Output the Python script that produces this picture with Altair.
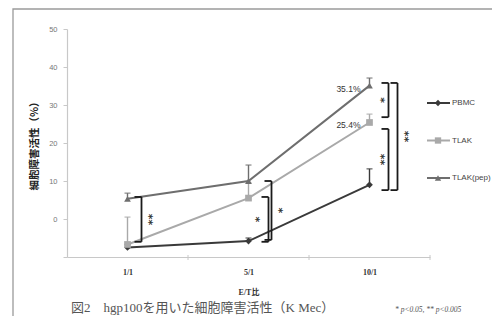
import json
import altair as alt
import pandas as pd

# ---- data ----
categories = ["1/1", "5/1", "10/1"]
series = ["PBMC", "TLAK", "TLAK(pep)"]
pbmc = [-7.5, -5.8, 9.0]
tlak = [-6.7, 5.5, 25.4]
tlak_pep = [5.3, 10.0, 35.1]
pbmc_err = [0.8, 0.8, 4.2]
tlak_err = [7.2, 4.0, 2.2]
tlak_pep_err = [1.5, 4.2, 2.0]

# significance brackets (category index, upper end, lower end, label)
bracket_cat = [0, 1, 1, 2, 2, 2]
bracket_hi = [5.8, 5.8, 10.0, 35.8, 23.7, 35.8]
bracket_lo = [-6.0, -6.0, -5.5, 26.8, 7.6, 7.6]
bracket_label = ["**", "*", "*", "*", "**", "**"]

y_ticks = [-10, 0, 10, 20, 30, 40, 50]
caption = "図2　hgp100を用いた細胞障害活性（K Mec）"
footnote = "* p<0.05, ** p<0.005"
y_title = "細胞障害活性（%）"
x_title = "E/T比"

# ---- layout / style (not data) ----
W, H = 363, 228
STEP = W / 3.0
colors = ["#3a3a3a", "#a9a9a9", "#6e6e6e"]
shapes = ["diamond", "square", "triangle-up"]
bracket_dx_px = [14, 20, 23, 19, 19, 28]
label_dx_px = [23, 9, 32, 13, 13, 37]
ARM = 7

rows = []
for s, vals, errs in [(series[0], pbmc, pbmc_err), (series[1], tlak, tlak_err), (series[2], tlak_pep, tlak_pep_err)]:
    for i, c in enumerate(categories):
        rows.append({"idx": i, "cat": c, "series": s, "value": vals[i], "top": vals[i] + errs[i]})
df = pd.DataFrame(rows)

bdf = pd.DataFrame({"cat": bracket_cat, "hi": bracket_hi, "lo": bracket_lo, "label": bracket_label})
bdf["bx"] = bdf["cat"] + pd.Series(bracket_dx_px) / STEP
bdf["bx0"] = bdf["bx"] - ARM / STEP
bdf["lx"] = bdf["cat"] + pd.Series(label_dx_px) / STEP
bdf["mid"] = (bdf["hi"] + bdf["lo"]) / 2

xscale = alt.Scale(domain=[-0.5, 2.5], nice=False, zero=False)
xaxis = alt.Axis(values=[0, 1, 2], labelExpr=json.dumps(categories) + "[datum.value]",
                 ticks=False, grid=False, domainColor="#c8c8c8", domainWidth=1.2,
                 labelFontSize=8, labelFont="Liberation Serif", labelColor="#333",
                 labelFontWeight="bold", labelPadding=11,
                 title=x_title, titleFontSize=8, titleFontWeight="bold",
                 titleFont="Liberation Serif, Noto Sans CJK JP", titleY=35,
                 titleBaseline="middle", titleColor="#333")
yscale = alt.Scale(domain=[-10, 50], nice=False, zero=False)
yaxis = alt.Axis(values=y_ticks, labelExpr="datum.value == -10 ? '' : datum.label",
                 tickSize=4, tickColor="#c8c8c8", domainColor="#c8c8c8", domainWidth=1.2,
                 grid=False, labelFontSize=7.5, labelColor="#777", labelPadding=6,
                 labelFont="Liberation Sans",
                 title=y_title, titleFont="Noto Sans CJK JP", titleFontSize=10.5,
                 titleFontWeight="bold", titleAngle=-90, titleX=-33, titleY=114,
                 titleAlign="center", titleBaseline="middle", titleColor="#222")


def X(f):
    return alt.X(f, type="quantitative", scale=xscale, axis=xaxis)


def Y(f):
    return alt.Y(f, type="quantitative", scale=yscale, axis=yaxis)


color = alt.Color("series:N", scale=alt.Scale(domain=series, range=colors), legend=None)
shape = alt.Shape("series:N", scale=alt.Scale(domain=series, range=shapes), legend=None)

base = alt.Chart(df)

frame = alt.Chart(pd.DataFrame({"a": [0]})).mark_rect(fillOpacity=0, stroke="#9a9a9a", strokeWidth=1.3).encode(
    x=alt.value(-54), y=alt.value(-20), x2=alt.value(440), y2=alt.value(300))

bticks = alt.Chart(pd.DataFrame({"b": [0.5, 1.5, 2.5]})).mark_rule(color="#c8c8c8", strokeWidth=1).encode(
    x=X("b"), y=alt.value(H - 2), y2=alt.value(H + 3))

lines = base.mark_line(strokeWidth=2).encode(x=X("idx"), y=Y("value"), color=color, detail="series:N")
err = base.mark_rule(strokeWidth=1.4).encode(x=X("idx"), y=Y("value"), y2="top:Q", color=color)
caps = base.mark_tick(orient="horizontal", size=6, thickness=1.4).encode(x=X("idx"), y=Y("top"), color=color)
pts = base.mark_point(filled=True, size=45, opacity=1).encode(x=X("idx"), y=Y("value"), color=color, shape=shape)

pct = base.transform_filter(
    f"datum.idx == 2 && datum.series != '{series[0]}'"
).transform_calculate(
    lab="format(datum.value, '.1f') + '%'"
).mark_text(align="right", baseline="middle", dx=-9, dy=3, fontSize=8.5, font="Liberation Sans", color="#333").encode(
    x=X("idx"), y=Y("value"), text="lab:N")

bch = alt.Chart(bdf)
bv = bch.mark_rule(color="#1a1a1a", strokeWidth=1.8).encode(x=X("bx"), y=Y("hi"), y2="lo:Q")
bt = bch.mark_rule(color="#1a1a1a", strokeWidth=1.8).encode(x=X("bx0"), x2="bx:Q", y=Y("hi"))
bb = bch.mark_rule(color="#1a1a1a", strokeWidth=1.8).encode(x=X("bx0"), x2="bx:Q", y=Y("lo"))
bl = bch.mark_text(angle=90, align="center", baseline="middle", dy=3, fontSize=11, fontWeight="bold",
                   font="DejaVu Sans", color="#333").encode(x=X("lx"), y=Y("mid"), text="label:N")

legend_layers = []
for i, s in enumerate(series):
    ly = 74 + 37.5 * i
    d = alt.Chart(pd.DataFrame({"s": [s]}))
    legend_layers.append(d.mark_rule(strokeWidth=2, color=colors[i]).encode(
        x=alt.value(360), x2=alt.value(383), y=alt.value(ly)))
    legend_layers.append(d.mark_point(filled=True, size=40, opacity=1, color=colors[i], shape=shapes[i]).encode(
        x=alt.value(371), y=alt.value(ly)))
    legend_layers.append(d.mark_text(align="left", baseline="middle", fontSize=8, font="Liberation Sans",
                                     color="#444").encode(x=alt.value(385), y=alt.value(ly), text="s:N"))

cap = alt.Chart(pd.DataFrame({"t": [caption]})).mark_text(
    align="left", baseline="middle", fontSize=13, font="Liberation Serif, Noto Sans CJK JP", color="#555").encode(
    x=alt.value(4), y=alt.value(279), text="t:N")
foot = alt.Chart(pd.DataFrame({"t": [footnote]})).mark_text(
    align="left", baseline="middle", fontSize=7.5, font="Liberation Serif", fontStyle="italic", color="#555").encode(
    x=alt.value(328), y=alt.value(281), text="t:N")

chart = alt.layer(frame, bticks, lines, err, caps, pts, pct, bv, bt, bb, bl, *legend_layers, cap, foot).properties(
    width=W, height=H,
    padding={"left": 59, "top": 21, "right": 62, "bottom": 59},
    autosize=alt.AutoSizeParams(type="none"),
).configure_view(strokeWidth=0)

chart.save("out.html", embed_options={"renderer": "svg", "actions": False})
